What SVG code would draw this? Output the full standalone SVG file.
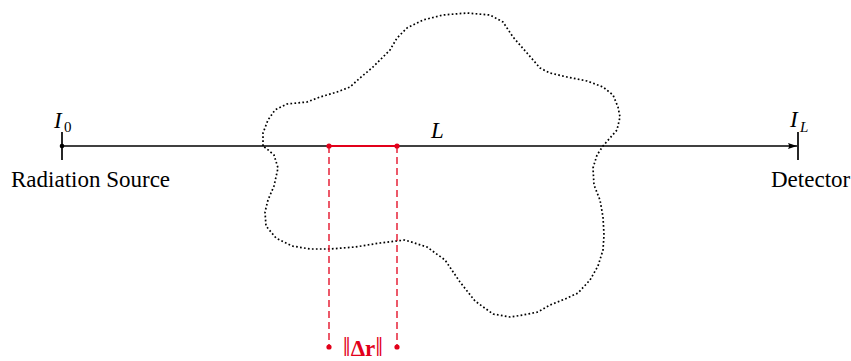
<svg xmlns="http://www.w3.org/2000/svg" width="851" height="361" viewBox="0 0 851 361">
<style>
.red{stroke:#e2001a;fill:none}
.dot{fill:#e2001a}
</style>
<defs>
<marker id="arr" markerWidth="10" markerHeight="8" refX="9" refY="4" orient="auto" markerUnits="userSpaceOnUse">
<path d="M0,1 L9,4 L0,7 Q2,4 0,1 Z" fill="#000"/>
</marker>
</defs>
<g id="region">
<path d="M263,146 L263,133 L268,120 L275,110 L287,104 L307,102 L320,97 L337,92 L350,87 L360,78 L373,67 L390,50 L397,38 L407,28 L423,20 L443,15 L467,13 L490,15 L503,22 L513,37 L527,53 L540,68 L550,73 L567,77 L587,81 L603,87 L613,95 L618,107 L620,117 L617,130 L610,138 L603,146 L597,155 L593,168 L594,185 L600,200 L603,217 L604,235 L603,250 L598,266 L590,280 L578,293 L565,299 L550,305 L538,312 L523,315 L510,317 L493,314 L475,301 L460,282 L445,260 L427,247 L405,240 L380,243 L355,247 L330,249 L310,249 L292,246 L276,238 L266,226 L265,212 L268,200 L274,186 L278,168 L274,155 L267,149 Z" fill="none" stroke="#000" stroke-width="1.7" stroke-dasharray="1.7 2.3" stroke-linejoin="round"/>
</g>
<g id="connectors">
<line x1="62" y1="146" x2="797" y2="146" stroke="#000" stroke-width="1.7" marker-end="url(#arr)"/>
<line class="red" x1="329" y1="146" x2="397" y2="146" stroke-width="1.8"/>
<line class="red" x1="329" y1="146" x2="329" y2="347" stroke-width="1.3" stroke-dasharray="7 4"/>
<line class="red" x1="397" y1="146" x2="397" y2="347" stroke-width="1.3" stroke-dasharray="7 4"/>
</g>
<g id="source" font-family="Liberation Serif">
<line x1="62" y1="132" x2="62" y2="160" stroke="#000" stroke-width="1.7"/>
<circle cx="62" cy="146" r="2.3" fill="#000"/>
<text x="54" y="128" font-size="23" font-style="italic">I</text><text x="64" y="132" font-size="15">0</text>
<text x="11" y="187" font-size="23">Radiation Source</text>
</g>
<g id="detector" font-family="Liberation Serif">
<line x1="798" y1="132" x2="798" y2="160" stroke="#000" stroke-width="1.7"/>
<text x="790" y="127" font-size="23" font-style="italic">I</text><text x="800" y="132" font-size="15" font-style="italic">L</text>
<text x="771" y="187" font-size="23">Detector</text>
</g>
<g id="length" font-family="Liberation Serif">
<text x="431" y="138" font-size="23" font-style="italic">L</text>
</g>
<g id="segment" font-family="Liberation Serif">
<circle class="dot" cx="329" cy="146" r="2.6"/>
<circle class="dot" cx="397" cy="146" r="2.6"/>
<circle class="dot" cx="329" cy="347" r="2.6"/>
<circle class="dot" cx="397" cy="347" r="2.6"/>
<text x="363" y="356" text-anchor="middle" font-size="23" fill="#e2001a"><tspan font-size="28">‖</tspan><tspan font-weight="bold">Δr</tspan><tspan font-size="28">‖</tspan></text>
</g>
</svg>
